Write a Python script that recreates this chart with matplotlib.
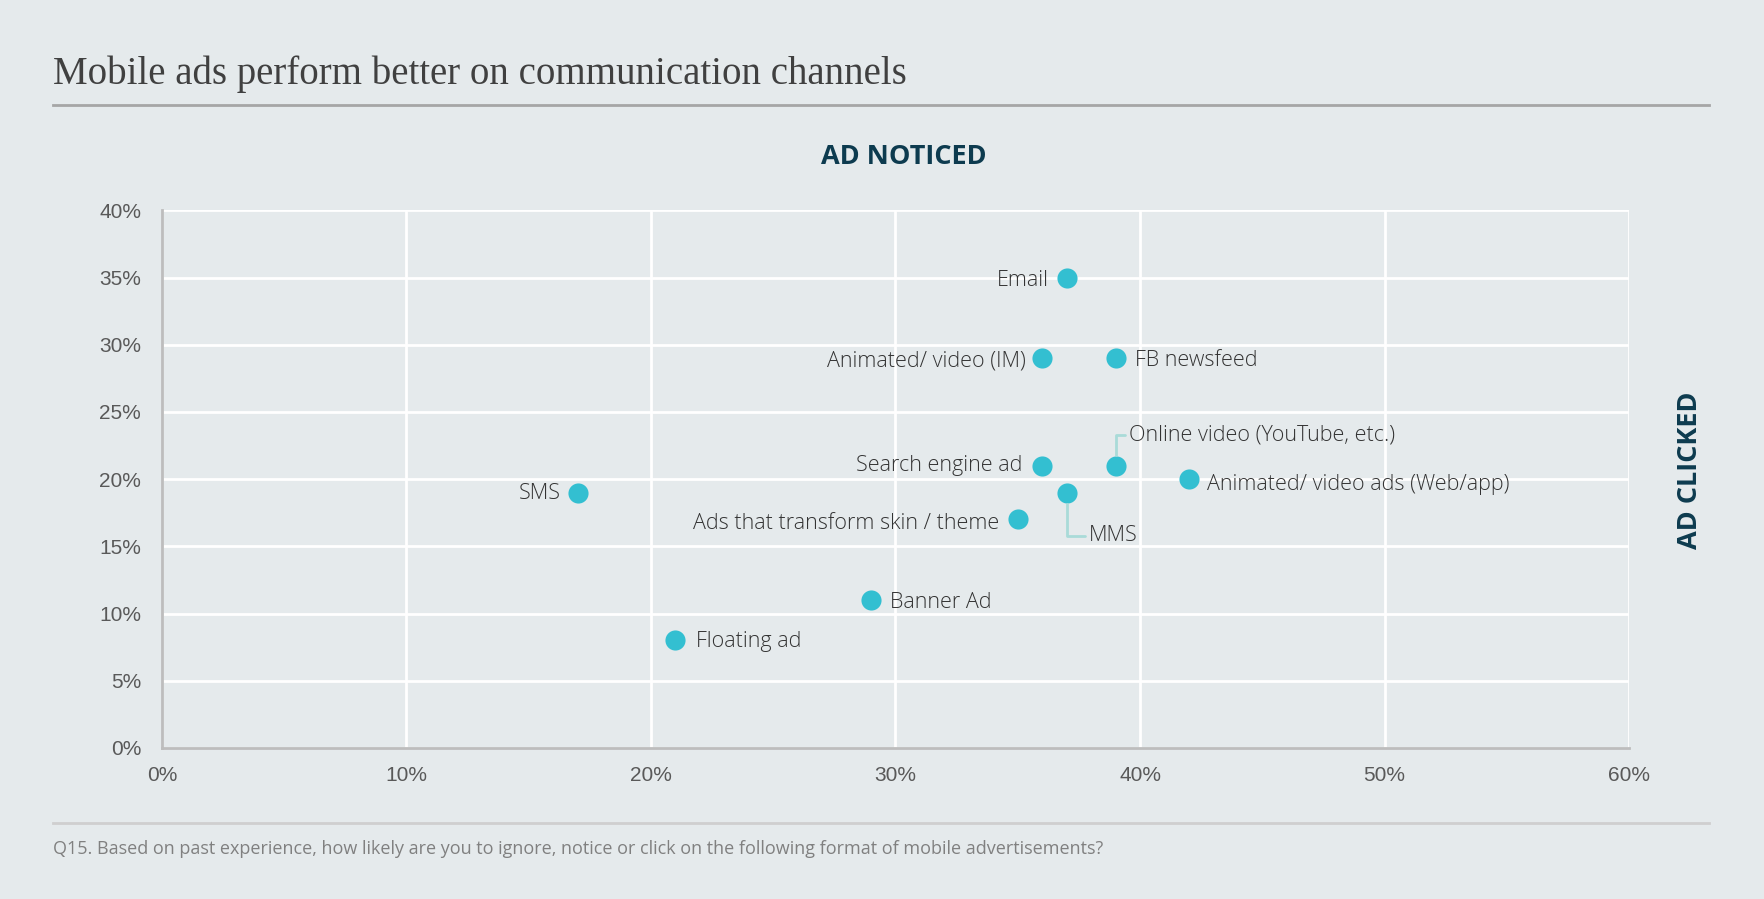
import matplotlib.pyplot as plt
import matplotlib.lines as mlines
from matplotlib.ticker import FuncFormatter

# data (percent)
channels = ['Email', 'Animated/ video (IM)', 'FB newsfeed', 'Online video (YouTube, etc.)',
            'Search engine ad', 'Animated/ video ads (Web/app)', 'MMS', 'SMS',
            'Ads that transform skin / theme', 'Banner Ad', 'Floating ad']
ad_noticed = [37, 36, 39, 39, 36, 42, 37, 17, 35, 29, 21]
ad_clicked = [35, 29, 29, 21, 21, 20, 19, 19, 17, 11, 8]

# label placement: (dx, dy) in points, horizontal alignment, leader line
label_pos = {
    'Email': (-13, -2, 'right', False),
    'Animated/ video (IM)': (-12, -2, 'right', False),
    'FB newsfeed': (14, -2, 'left', False),
    'Online video (YouTube, etc.)': (10, 22, 'left', True),
    'Search engine ad': (-14, 0, 'right', False),
    'Animated/ video ads (Web/app)': (13, -4, 'left', False),
    'MMS': (16, -31, 'left', True),
    'SMS': (-12, -1, 'right', False),
    'Ads that transform skin / theme': (-13, -3, 'right', False),
    'Banner Ad': (14, -2, 'left', False),
    'Floating ad': (15, -1, 'left', False),
}

bg = '#e5eaec'
dot = '#33bfd1'
navy = '#0d3b4f'

fig = plt.figure(figsize=(17.64, 8.99), dpi=100, facecolor=bg)
ax = fig.add_axes([0.0918, 0.168, 0.8317, 0.598], facecolor=bg)

ax.scatter(ad_noticed, ad_clicked, s=210, color=dot, zorder=3, linewidths=0)

for name, x, y in zip(channels, ad_noticed, ad_clicked):
    dx, dy, ha, leader = label_pos[name]
    arrow = None
    if leader:
        arrow = dict(arrowstyle='-', color='#a9dbd8', lw=2,
                     connectionstyle='angle,angleA=0,angleB=90,rad=0',
                     relpos=(0, 0.5), shrinkA=1, shrinkB=8)
    ax.annotate(name, xy=(x, y), xytext=(dx, dy), textcoords='offset points',
                ha=ha, va='center', fontsize=15.5, color='#333333',
                family='Open Sans', fontweight='light', arrowprops=arrow)

ax.set_xlim(0, 60)
ax.set_ylim(0, 40)
ax.set_xticks(range(0, 61, 10))
ax.set_yticks(range(0, 41, 5))
pct = FuncFormatter(lambda v, p: f'{v:.0f}%')
ax.xaxis.set_major_formatter(pct)
ax.yaxis.set_major_formatter(pct)
ax.tick_params(length=0, labelsize=15, labelcolor='#595959')
ax.tick_params(axis='y', pad=15)
ax.tick_params(axis='x', pad=13)
for lab in ax.get_xticklabels() + ax.get_yticklabels():
    lab.set_family('Liberation Sans')
ax.grid(True, color='white', lw=2)
ax.set_axisbelow(True)
for s in ['top', 'right']:
    ax.spines[s].set_visible(False)
for s in ['left', 'bottom']:
    ax.spines[s].set_color('#bdbdbd')
    ax.spines[s].set_linewidth(2)
    ax.spines[s].set_zorder(2)

# titles and axis names
fig.text(53 / 1764, 1 - 74 / 899, 'Mobile ads perform better on communication channels',
         family='Liberation Serif', fontsize=28, color='#404040', va='center', ha='left')
fig.add_artist(mlines.Line2D([53 / 1764, 1709 / 1764], [1 - 105 / 899] * 2, color='#a6a6a6', lw=2))
fig.text(904 / 1764, 1 - 157 / 899, 'AD NOTICED', family='Open Sans', fontweight='bold',
         fontsize=19.5, color=navy, ha='center', va='center')
fig.text(1690 / 1764, 1 - 470 / 899, 'AD CLICKED', family='Open Sans', fontweight='bold',
         fontsize=19.5, color=navy, ha='center', va='center', rotation=90)

fig.add_artist(mlines.Line2D([53 / 1764, 1709 / 1764], [1 - 823 / 899] * 2, color='#cfcfcf', lw=2))
fig.text(53 / 1764, 1 - 849 / 899,
         'Q15. Based on past experience, how likely are you to ignore, notice or click on the following format of mobile advertisements?',
         family='Open Sans', fontsize=13, color='#808080', va='center', ha='left')

fig.savefig('out.png', dpi=100, facecolor=bg)
